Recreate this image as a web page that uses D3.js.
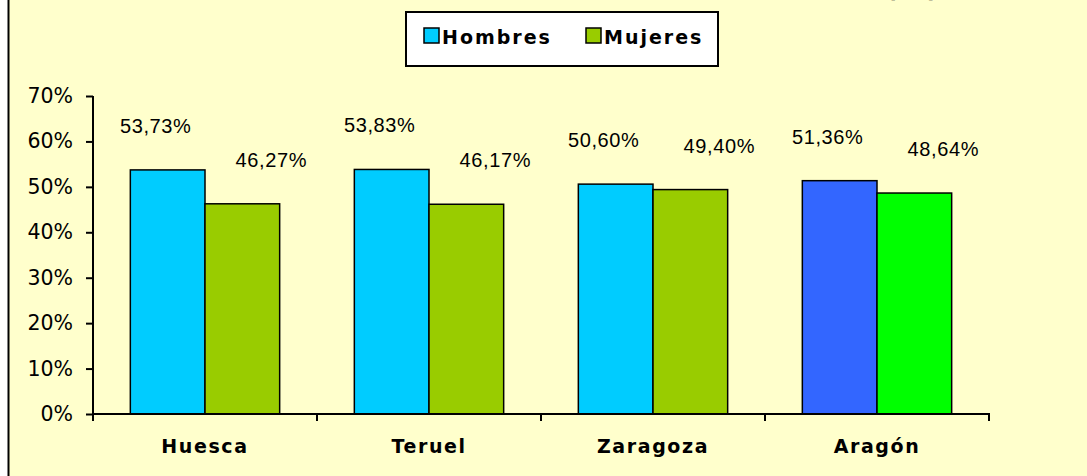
<!DOCTYPE html>
<html>
<head>
<meta charset="utf-8">
<script src="https://cdn.jsdelivr.net/npm/d3@7"></script>
<style>
  body { margin: 0; background: #fff; }
  svg { display: block; }
</style>
</head>
<body>
<script>
// data --------------------------------------------------------------
var categories = ["Huesca", "Teruel", "Zaragoza", "Aragón"];
var seriesNames = ["Hombres", "Mujeres"];
var hombres = [53.73, 53.83, 50.60, 51.36];
var mujeres = [46.27, 46.17, 49.40, 48.64];
var yTicks = [0, 10, 20, 30, 40, 50, 60, 70];

var W = 1087, H = 476;
var colors = { Hombres: "#00CCFF", Mujeres: "#99CC00" };
var totalColors = { Hombres: "#3366FF", Mujeres: "#00FF00" }; // Aragón bars

var svg = d3.select("body").append("svg")
  .attr("width", W)
  .attr("height", H);

// chart area background + left frame line
svg.append("rect")
  .attr("x", 8).attr("y", 0)
  .attr("width", W - 8).attr("height", H)
  .style("fill", "#FFFFCC");
svg.append("line")
  .attr("x1", 8.5).attr("x2", 8.5)
  .attr("y1", 0).attr("y2", H)
  .style("stroke", "#000").style("stroke-width", 2);

// title (cut off at the top, like the original)
svg.append("text")
  .attr("x", 941).attr("y", -3)
  .attr("text-anchor", "end")
  .style("font-family", "'DejaVu Sans', Verdana, sans-serif")
  .style("font-weight", "bold")
  .style("font-size", "24px")
  .style("letter-spacing", "3px")
  .text("POBLACIÓN POR SEXO (%)");

// scales ------------------------------------------------------------
var x = d3.scaleBand().domain(categories).range([93, 989]);
var xs = d3.scaleBand().domain(seriesNames).range([0, x.bandwidth()]).paddingOuter(0.5);
var y = d3.scaleLinear().domain([0, 70]).range([414, 96]);

var rows = categories.map(function(c, i) {
  return [
    { cat: c, s: "Hombres", v: hombres[i] },
    { cat: c, s: "Mujeres", v: mujeres[i] }
  ];
});

function barColor(d) {
  return d.cat == "Aragón" ? totalColors[d.s] : colors[d.s];
}

// bars
var groups = svg.selectAll(".grp")
  .data(rows)
  .enter().append("g")
  .attr("class", "grp")
  .attr("transform", function(d) { return "translate(" + x(d[0].cat) + ",0)"; });

groups.selectAll("rect")
  .data(function(d) { return d; })
  .enter().append("rect")
  .attr("x", function(d) { return xs(d.s); })
  .attr("y", function(d) { return y(d.v); })
  .attr("width", xs.bandwidth())
  .attr("height", function(d) { return y(0) - y(d.v); })
  .style("fill", barColor)
  .style("stroke", "#000")
  .style("stroke-width", 1.5);

// value labels (placed above and offset like the original)
var labelDx = { Hombres: -12, Mujeres: 29 };
groups.selectAll("text")
  .data(function(d) { return d; })
  .enter().append("text")
  .attr("x", function(d) { return xs(d.s) + xs.bandwidth() / 2 + labelDx[d.s]; })
  .attr("y", function(d) { return y(d.v) - 44; })
  .attr("text-anchor", "middle")
  .attr("dominant-baseline", "central")
  .style("font-family", "'Liberation Sans', Arial, sans-serif")
  .style("font-size", "20px")
  .style("letter-spacing", "0.6px")
  .text(function(d) { return d.v.toFixed(2).replace(".", ",") + "%"; });

// y axis
var yAxis = d3.axisLeft(y)
  .tickValues(yTicks)
  .tickSize(7)
  .tickPadding(13)
  .tickFormat(function(d) { return d + "%"; });

var gy = svg.append("g")
  .attr("transform", "translate(93,0)")
  .call(yAxis);
gy.select(".domain").style("stroke", "#000").style("stroke-width", 2).attr("d", "M0,96V414");
gy.selectAll(".tick line").style("stroke", "#000").style("stroke-width", 2);
gy.selectAll(".tick text")
  .style("font-family", "'DejaVu Sans', Verdana, sans-serif")
  .style("font-size", "20.5px")
  .style("fill", "#000");

// x axis: line, boundary ticks, bold category names
svg.append("line")
  .attr("x1", 92).attr("x2", 990)
  .attr("y1", y(0)).attr("y2", y(0))
  .style("stroke", "#000").style("stroke-width", 2);

var bounds = categories.map(function(c) { return x(c); }).concat([x.range()[1]]);
svg.selectAll(".xtick")
  .data(bounds)
  .enter().append("line")
  .attr("class", "xtick")
  .attr("x1", function(d) { return d; })
  .attr("x2", function(d) { return d; })
  .attr("y1", y(0)).attr("y2", y(0) + 7)
  .style("stroke", "#000").style("stroke-width", 2);

svg.selectAll(".xlab")
  .data(categories)
  .enter().append("text")
  .attr("class", "xlab")
  .attr("x", function(d) { return x(d) + x.bandwidth() / 2; })
  .attr("y", 446)
  .attr("text-anchor", "middle")
  .attr("dominant-baseline", "central")
  .style("font-family", "'DejaVu Sans', Verdana, sans-serif")
  .style("font-weight", "bold")
  .style("font-size", "19px")
  .style("letter-spacing", "1.6px")
  .text(function(d) { return d; });

// legend
var legend = svg.append("g");
legend.append("rect")
  .attr("x", 406).attr("y", 12)
  .attr("width", 312).attr("height", 54)
  .style("fill", "#fff")
  .style("stroke", "#000")
  .style("stroke-width", 2);

var legendX = [424, 586];
seriesNames.forEach(function(s, i) {
  legend.append("rect")
    .attr("x", legendX[i]).attr("y", 28)
    .attr("width", 15).attr("height", 15)
    .style("fill", colors[s])
    .style("stroke", "#000")
    .style("stroke-width", 1.5);
  legend.append("text")
    .attr("x", legendX[i] + 18).attr("y", 37)
    .attr("dominant-baseline", "central")
    .style("font-family", "'DejaVu Sans', Verdana, sans-serif")
    .style("font-weight", "bold")
    .style("font-size", "19px")
    .style("letter-spacing", "2px")
    .text(s);
});
</script>
</body>
</html>
